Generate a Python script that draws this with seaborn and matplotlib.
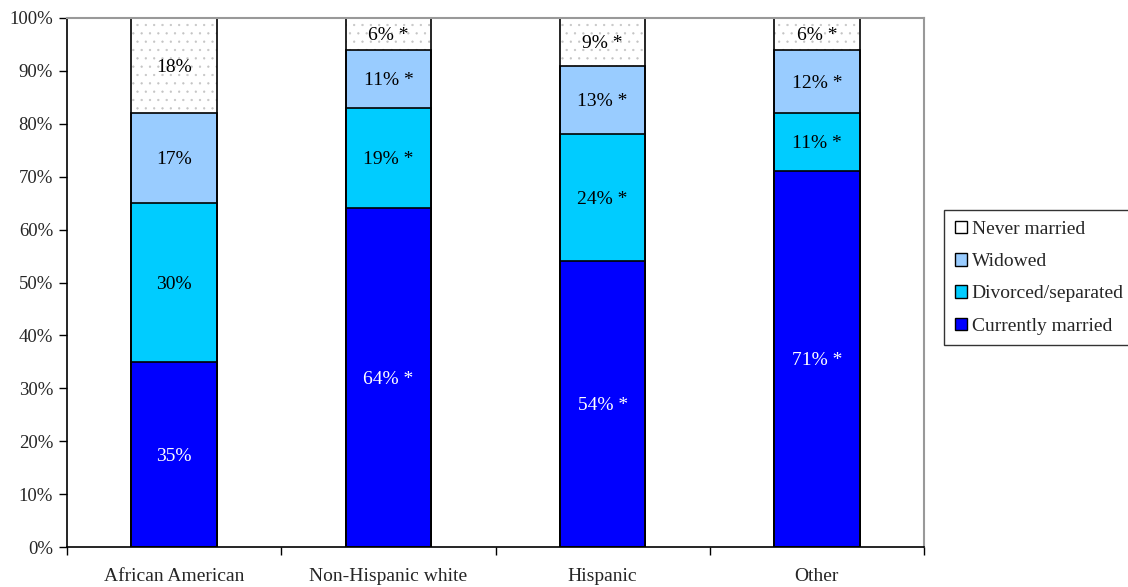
import numpy as np
import pandas as pd
import matplotlib
matplotlib.use("Agg")
import matplotlib.pyplot as plt
from matplotlib.patches import Patch
import seaborn as sns

# Marital status shares (percent) by race/ethnicity
groups = ["African American", "Non-Hispanic white", "Hispanic", "Other"]
currently_married = [35, 64, 54, 71]
divorced_separated = [30, 19, 24, 11]
widowed = [17, 11, 13, 12]
never_married = [18, 6, 9, 6]
significant = [False, True, True, True]

series_names = ["Currently married", "Divorced/separated", "Widowed", "Never married"]
series_values = [currently_married, divorced_separated, widowed, never_married]
series_colors = ["#0000FF", "#00CCFF", "#99CCFF", "#FFFFFF"]
label_colors = ["white", "black", "black", "black"]

sns.set_theme(style="white")
plt.rcParams["font.family"] = ["Liberation Serif", "DejaVu Serif"]
plt.rcParams["hatch.linewidth"] = 0.4

fig = plt.figure(figsize=(11.28, 5.87), dpi=100)
ax = fig.add_axes([67 / 1128, 1 - 547 / 587, (924 - 67) / 1128, (547 - 18) / 587])

vals = np.array(series_values, dtype=float)
cum = np.cumsum(vals, axis=0)
bar_w = 0.40

# Stacked bars: draw cumulative totals from the top segment down
for i in range(len(series_names) - 1, -1, -1):
    df = pd.DataFrame({"group": groups, "value": cum[i]})
    if series_names[i] == "Never married":
        sns.barplot(data=df, x="group", y="value", color="white", width=bar_w,
                    saturation=1, hatch="..", edgecolor="#c4c4c4", linewidth=0,
                    ax=ax)
    else:
        sns.barplot(data=df, x="group", y="value", color=series_colors[i],
                    width=bar_w, saturation=1, edgecolor="black", linewidth=1.2,
                    ax=ax)

# Outline of the full stack
df_total = pd.DataFrame({"group": groups, "value": cum[-1]})
sns.barplot(data=df_total, x="group", y="value", fill=False, width=bar_w,
            edgecolor="black", linewidth=1.2, ax=ax)

# Segment value labels
for i in range(len(series_names)):
    for j in range(len(groups)):
        mid = cum[i, j] - vals[i, j] / 2
        txt = f"{vals[i, j]:.0f}%" + (" *" if significant[j] else "")
        ax.text(j, mid - 0.3, txt, ha="center", va="center", fontsize=14,
                color=label_colors[i])

ax.set_xlim(-0.5, len(groups) - 0.5)
ax.set_ylim(0, 100)
ax.set_yticks(np.arange(0, 101, 10))
ax.set_yticklabels([f"{t}%" for t in range(0, 101, 10)], fontsize=13.5)
ax.set_xlabel("")
ax.set_ylabel("")

# Category ticks sit between the groups; labels below centres
ax.set_xticks(np.arange(-0.5, len(groups), 1.0))
ax.set_xticklabels([""] * (len(groups) + 1))
for j, g in enumerate(groups):
    ax.text(j, -5.6, g, ha="center", va="center", fontsize=14,
            transform=ax.transData, clip_on=False)

ax.tick_params(axis="both", which="both", direction="out", length=6, width=1,
               color="black", bottom=True, left=True, pad=4)
for side in ["left", "bottom"]:
    ax.spines[side].set_color("black")
    ax.spines[side].set_linewidth(1.2)
for side in ["top", "right"]:
    ax.spines[side].set_visible(True)
    ax.spines[side].set_color("#999999")
    ax.spines[side].set_linewidth(1.5)
ax.grid(False)

# Legend, top series first
handles = [Patch(facecolor=series_colors[i], edgecolor="black", linewidth=1.0,
                 label=series_names[i]) for i in range(len(series_names) - 1, -1, -1)]
leg = fig.legend(handles=handles, loc="upper left",
                 bbox_to_anchor=(944 / 1128, 1 - 210 / 587), fontsize=14,
                 frameon=True, fancybox=False, edgecolor="black",
                 handlelength=0.62, handleheight=0.62, handletextpad=0.25,
                 labelspacing=0.78, borderpad=0.55, borderaxespad=0)
leg.get_frame().set_linewidth(1.0)

fig.savefig("out.png", dpi=100)
